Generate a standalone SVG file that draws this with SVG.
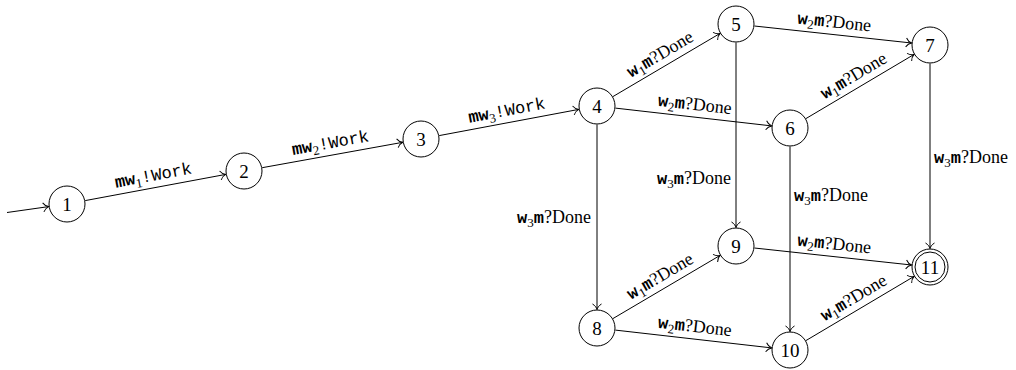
<svg xmlns="http://www.w3.org/2000/svg" width="1016" height="370" viewBox="0 0 1016 370">
<defs>
<style>
.node circle{fill:#fff;stroke:#000;stroke-width:1}
.node text{font-family:'Liberation Serif','DejaVu Serif',serif;font-size:19px;text-anchor:middle;fill:#000}
.edge line{stroke:#000;stroke-width:1;marker-end:url(#to)}
.lbl{fill:#000}
.tt{font-family:'Liberation Mono','DejaVu Sans Mono',monospace;font-size:17px}
.b{font-weight:bold}
.sub{font-family:'Liberation Serif','DejaVu Serif',serif;font-size:13px}
.rm{font-family:'Liberation Serif','DejaVu Serif',serif;font-size:18px}
.mid{text-anchor:middle}
.end{text-anchor:end}
.start{text-anchor:start}
</style>
<marker id="to" viewBox="-7 -6 8 12" refX="0" refY="0" markerWidth="8" markerHeight="12" markerUnits="userSpaceOnUse" orient="auto" overflow="visible">
<path d="M-5.5,-4.5 C-4,-1.8 -1.5,-0.4 0,0 C-1.5,0.4 -4,1.8 -5.5,4.5" fill="none" stroke="#000" stroke-width="1"/>
</marker>
</defs>
<rect width="1016" height="370" fill="#fff"/>
<g id="connectors">
<g class="edge" id="e-init"><line x1="7" y1="212.5" x2="48.7" y2="206.6"/></g>
<g class="edge" id="e-1-2"><line x1="85.2" y1="200.6" x2="225.8" y2="174.4"/>
<text class="lbl mid" transform="translate(154.2,180.6) rotate(-10.56)"><tspan class="tt b" font-family="Liberation Mono, monospace">mw</tspan><tspan class="sub" font-family="Liberation Serif, serif" dy="4">1</tspan><tspan class="tt" font-family="Liberation Mono, monospace" dy="-4">!Work</tspan></text></g>
<g class="edge" id="e-2-3"><line x1="262.2" y1="167.7" x2="402.8" y2="142.3"/>
<text class="lbl mid" transform="translate(331.3,148.1) rotate(-10.25)"><tspan class="tt b" font-family="Liberation Mono, monospace">mw</tspan><tspan class="sub" font-family="Liberation Serif, serif" dy="4">2</tspan><tspan class="tt" font-family="Liberation Mono, monospace" dy="-4">!Work</tspan></text></g>
<g class="edge" id="e-3-4"><line x1="439.2" y1="135.6" x2="578.8" y2="109.4"/>
<text class="lbl mid" transform="translate(507.7,115.6) rotate(-10.62)"><tspan class="tt b" font-family="Liberation Mono, monospace">mw</tspan><tspan class="sub" font-family="Liberation Serif, serif" dy="4">3</tspan><tspan class="tt" font-family="Liberation Mono, monospace" dy="-4">!Work</tspan></text></g>
<g class="edge" id="e-4-5"><line x1="612.9" y1="96.6" x2="720.1" y2="33.4"/>
<text class="lbl mid" transform="translate(662.9,59) rotate(-30.54)"><tspan class="tt b" font-family="Liberation Mono, monospace">w</tspan><tspan class="sub" font-family="Liberation Serif, serif" dy="4">1</tspan><tspan class="tt b" font-family="Liberation Mono, monospace" dy="-4">m</tspan><tspan class="rm" font-family="Liberation Serif, serif">?Done</tspan></text></g>
<g class="edge" id="e-4-6"><line x1="615.4" y1="108.1" x2="771.6" y2="125.9"/>
<text class="lbl mid" transform="translate(694.3,110) rotate(6.5)"><tspan class="tt b" font-family="Liberation Mono, monospace">w</tspan><tspan class="sub" font-family="Liberation Serif, serif" dy="4">2</tspan><tspan class="tt b" font-family="Liberation Mono, monospace" dy="-4">m</tspan><tspan class="rm" font-family="Liberation Serif, serif">?Done</tspan></text></g>
<g class="edge" id="e-4-8"><line x1="597" y1="124.5" x2="597" y2="309.5"/>
<text class="lbl end" x="591" y="222.5"><tspan class="tt b" font-family="Liberation Mono, monospace">w</tspan><tspan class="sub" font-family="Liberation Serif, serif" dy="4">3</tspan><tspan class="tt b" font-family="Liberation Mono, monospace" dy="-4">m</tspan><tspan class="rm" font-family="Liberation Serif, serif">?Done</tspan></text></g>
<g class="edge" id="e-5-7"><line x1="754.4" y1="26" x2="911.6" y2="43"/>
<text class="lbl mid" transform="translate(833.8,27.5) rotate(6.18)"><tspan class="tt b" font-family="Liberation Mono, monospace">w</tspan><tspan class="sub" font-family="Liberation Serif, serif" dy="4">2</tspan><tspan class="tt b" font-family="Liberation Mono, monospace" dy="-4">m</tspan><tspan class="rm" font-family="Liberation Serif, serif">?Done</tspan></text></g>
<g class="edge" id="e-5-9"><line x1="736" y1="42.5" x2="736" y2="227.5"/>
<text class="lbl end" x="731" y="184"><tspan class="tt b" font-family="Liberation Mono, monospace">w</tspan><tspan class="sub" font-family="Liberation Serif, serif" dy="4">3</tspan><tspan class="tt b" font-family="Liberation Mono, monospace" dy="-4">m</tspan><tspan class="rm" font-family="Liberation Serif, serif">?Done</tspan></text></g>
<g class="edge" id="e-6-7"><line x1="805.9" y1="118.6" x2="914.1" y2="54.4"/>
<text class="lbl mid" transform="translate(856.4,80.5) rotate(-30.66)"><tspan class="tt b" font-family="Liberation Mono, monospace">w</tspan><tspan class="sub" font-family="Liberation Serif, serif" dy="4">1</tspan><tspan class="tt b" font-family="Liberation Mono, monospace" dy="-4">m</tspan><tspan class="rm" font-family="Liberation Serif, serif">?Done</tspan></text></g>
<g class="edge" id="e-6-10"><line x1="790" y1="146.5" x2="790" y2="331.5"/>
<text class="lbl start" x="794" y="200.5"><tspan class="tt b" font-family="Liberation Mono, monospace">w</tspan><tspan class="sub" font-family="Liberation Serif, serif" dy="4">3</tspan><tspan class="tt b" font-family="Liberation Mono, monospace" dy="-4">m</tspan><tspan class="rm" font-family="Liberation Serif, serif">?Done</tspan></text></g>
<g class="edge" id="e-7-11"><line x1="930" y1="63.5" x2="930" y2="248.5"/>
<text class="lbl start" x="934" y="162.5"><tspan class="tt b" font-family="Liberation Mono, monospace">w</tspan><tspan class="sub" font-family="Liberation Serif, serif" dy="4">3</tspan><tspan class="tt b" font-family="Liberation Mono, monospace" dy="-4">m</tspan><tspan class="rm" font-family="Liberation Serif, serif">?Done</tspan></text></g>
<g class="edge" id="e-8-9"><line x1="612.9" y1="318.6" x2="720.1" y2="255.4"/>
<text class="lbl mid" transform="translate(662.9,281) rotate(-30.54)"><tspan class="tt b" font-family="Liberation Mono, monospace">w</tspan><tspan class="sub" font-family="Liberation Serif, serif" dy="4">1</tspan><tspan class="tt b" font-family="Liberation Mono, monospace" dy="-4">m</tspan><tspan class="rm" font-family="Liberation Serif, serif">?Done</tspan></text></g>
<g class="edge" id="e-8-10"><line x1="615.4" y1="330.1" x2="771.6" y2="347.9"/>
<text class="lbl mid" transform="translate(694.3,332) rotate(6.5)"><tspan class="tt b" font-family="Liberation Mono, monospace">w</tspan><tspan class="sub" font-family="Liberation Serif, serif" dy="4">2</tspan><tspan class="tt b" font-family="Liberation Mono, monospace" dy="-4">m</tspan><tspan class="rm" font-family="Liberation Serif, serif">?Done</tspan></text></g>
<g class="edge" id="e-9-11"><line x1="754.4" y1="248" x2="911.6" y2="265"/>
<text class="lbl mid" transform="translate(833.8,249.5) rotate(6.18)"><tspan class="tt b" font-family="Liberation Mono, monospace">w</tspan><tspan class="sub" font-family="Liberation Serif, serif" dy="4">2</tspan><tspan class="tt b" font-family="Liberation Mono, monospace" dy="-4">m</tspan><tspan class="rm" font-family="Liberation Serif, serif">?Done</tspan></text></g>
<g class="edge" id="e-10-11"><line x1="805.9" y1="340.6" x2="914.1" y2="276.4"/>
<text class="lbl mid" transform="translate(856.4,302.5) rotate(-30.66)"><tspan class="tt b" font-family="Liberation Mono, monospace">w</tspan><tspan class="sub" font-family="Liberation Serif, serif" dy="4">1</tspan><tspan class="tt b" font-family="Liberation Mono, monospace" dy="-4">m</tspan><tspan class="rm" font-family="Liberation Serif, serif">?Done</tspan></text></g>
</g>
<g class="node" id="node-1"><circle cx="67" cy="204" r="18"/><text x="67" y="210.5" font-family="Liberation Serif, serif">1</text></g>
<g class="node" id="node-2"><circle cx="244" cy="171" r="18"/><text x="244" y="177.5" font-family="Liberation Serif, serif">2</text></g>
<g class="node" id="node-3"><circle cx="421" cy="139" r="18"/><text x="421" y="145.5" font-family="Liberation Serif, serif">3</text></g>
<g class="node" id="node-4"><circle cx="597" cy="106" r="18"/><text x="597" y="112.5" font-family="Liberation Serif, serif">4</text></g>
<g class="node" id="node-5"><circle cx="736" cy="24" r="18"/><text x="736" y="30.5" font-family="Liberation Serif, serif">5</text></g>
<g class="node" id="node-6"><circle cx="790" cy="128" r="18"/><text x="790" y="134.5" font-family="Liberation Serif, serif">6</text></g>
<g class="node" id="node-7"><circle cx="930" cy="45" r="18"/><text x="930" y="51.5" font-family="Liberation Serif, serif">7</text></g>
<g class="node" id="node-8"><circle cx="597" cy="328" r="18"/><text x="597" y="334.5" font-family="Liberation Serif, serif">8</text></g>
<g class="node" id="node-9"><circle cx="736" cy="246" r="18"/><text x="736" y="252.5" font-family="Liberation Serif, serif">9</text></g>
<g class="node" id="node-10"><circle cx="790" cy="350" r="18"/><text x="790" y="356.5" font-family="Liberation Serif, serif">10</text></g>
<g class="node" id="node-11"><circle cx="930" cy="267" r="18"/><circle cx="930" cy="267" r="15"/><text x="930" y="273.5" font-family="Liberation Serif, serif">11</text></g>
</svg>
